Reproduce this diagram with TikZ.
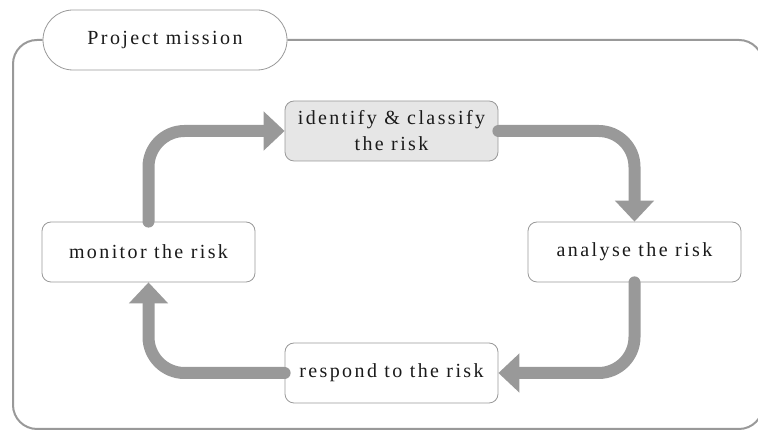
\documentclass[tikz,border=0pt]{standalone}
\usepackage{fontspec}
\setmainfont[LetterSpace=12]{Liberation Serif}
\usepackage{tikz}
\usetikzlibrary{arrows.meta,positioning}
\definecolor{bk90}{HTML}{1A1A1A}
\definecolor{bk40}{HTML}{999999}
\definecolor{bk10}{HTML}{E6E6E6}
\tikzset{
  stepbox/.style={
    rectangle, rounded corners=9pt, draw=bk40, fill=#1, line width=0.8pt,
    minimum width=213pt, minimum height=60pt,
    font=\fontsize{20}{26}\selectfont, text=bk90, align=center,
    inner sep=2pt
  },
  stepbox/.default=white,
  missionbox/.style={
    rectangle, rounded corners=30pt, draw=bk40, fill=white, line width=0.8pt,
    minimum width=244pt, minimum height=60pt,
    font=\fontsize{20}{26}\selectfont, text=bk90
  },
  flowarrow/.style={
    -{Triangle[length=21pt, width=38pt]}, line width=12pt, line cap=round,
    rounded corners=36pt, color=bk40
  },
  framebox/.style={
    draw=bk40, line width=2pt, rounded corners=24pt
  },
}
\begin{document}
\begin{tikzpicture}[x=1pt, y=1pt]

\clip (0,0) rectangle (758,430);

% outer frame
\node[missionbox] (mission) at (165,390) {Project mission};
\draw[framebox] (mission.west) -- (13,390) -- (13,1) -- (763,1) -- (763,390) -- (mission.east);

% the four steps
\node[stepbox=bk10] (identify) at (391.5,299) {identify \& classify\\the risk};
\node[stepbox] (analyse) at (634.5,178) {analyse the risk};
\node[stepbox] (respond) at (391.5,57) {respond to the risk};
\node[stepbox] (monitor) at (148.5,178) {monitor the risk};

% cycle
\draw[flowarrow] (monitor.north) |- (identify.west);
\draw[flowarrow] (identify.east) -| (analyse.north);
\draw[flowarrow] (analyse.south) |- (respond.east);
\draw[flowarrow] (respond.west) -| (monitor.south);

\end{tikzpicture}
\end{document}
